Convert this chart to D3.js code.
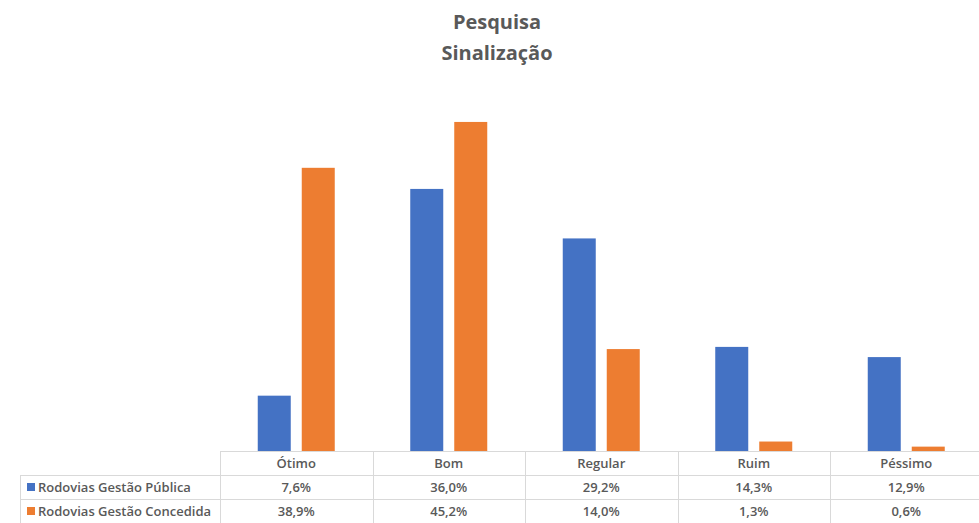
<!DOCTYPE html>
<html>
<head>
<meta charset="utf-8">
<script src="https://cdn.jsdelivr.net/npm/d3@7"></script>
<style>
  body { margin: 0; background: #fff; }
  svg text { font-family: "Open Sans", "Noto Sans", sans-serif; fill: #595959; }
</style>
</head>
<body>
<script>
'use strict';

const titleLines = ["Pesquisa", "Sinalização"];
const categories = ["Ótimo", "Bom", "Regular", "Ruim", "Péssimo"];
const seriesNames = ["Rodovias Gestão Pública", "Rodovias Gestão Concedida"];
const publica = [7.6, 36.0, 29.2, 14.3, 12.9];
const concedida = [38.9, 45.2, 14.0, 1.3, 0.6];
const seriesColors = ["#4472c4", "#ed7d31"];

(function() {
    const width = 979, height = 523;
    const plot = { left: 220, right: 982.5, top: 87, bottom: 451 };
    const rowH = 24;

    const svg = d3.select("body").append("svg")
        .attr("width", width)
        .attr("height", height);

    const values = [publica, concedida];

    // title
    svg.selectAll(".title")
        .data(titleLines)
        .enter()
        .append("text")
        .attr("class", "title")
        .attr("x", 497)
        .attr("y", (d, i) => 29 + i * 31)
        .attr("text-anchor", "middle")
        .attr("font-size", "20px")
        .attr("font-weight", "bold")
        .text(d => d);

    const x0 = d3.scaleBand()
        .domain(categories)
        .range([plot.left, plot.right]);

    const x1 = d3.scaleBand()
        .domain(seriesNames)
        .range([0, x0.bandwidth()])
        .paddingInner(0.25)
        .paddingOuter(0.858);

    const y = d3.scaleLinear()
        .domain([0, 50])
        .range([plot.bottom, plot.top]);

    // bars
    const groups = svg.selectAll(".cat")
        .data(categories)
        .enter()
        .append("g")
        .attr("class", "cat")
        .attr("transform", d => "translate(" + x0(d) + ",0)");

    groups.selectAll("rect")
        .data((c, ci) => seriesNames.map((s, si) => ({ s: s, si: si, v: values[si][ci] })))
        .enter()
        .append("rect")
        .attr("x", d => x1(d.s))
        .attr("y", d => y(d.v))
        .attr("width", x1.bandwidth())
        .attr("height", d => plot.bottom - y(d.v))
        .attr("fill", d => seriesColors[d.si]);

    // data table
    const grid = svg.append("g").attr("stroke", "#d9d9d9").attr("stroke-width", 1);
    const tableLeft = 20;
    const ys = [plot.bottom, plot.bottom + rowH, plot.bottom + rowH * 2, plot.bottom + rowH * 3];

    grid.append("line")
        .attr("x1", plot.left).attr("x2", plot.right)
        .attr("y1", ys[0] + 0.5).attr("y2", ys[0] + 0.5);
    [ys[1], ys[2]].forEach(yy => {
        grid.append("line")
            .attr("x1", tableLeft).attr("x2", plot.right)
            .attr("y1", yy + 0.5).attr("y2", yy + 0.5);
    });
    grid.append("line")
        .attr("x1", tableLeft + 0.5).attr("x2", tableLeft + 0.5)
        .attr("y1", ys[1]).attr("y2", height);
    categories.forEach(c => {
        grid.append("line")
            .attr("x1", Math.round(x0(c)) + 0.5).attr("x2", Math.round(x0(c)) + 0.5)
            .attr("y1", ys[0]).attr("y2", height);
    });

    // header
    svg.selectAll(".hdr")
        .data(categories)
        .enter()
        .append("text")
        .attr("class", "hdr")
        .attr("x", d => x0(d) + x0.bandwidth() / 2)
        .attr("y", ys[0] + 17)
        .attr("text-anchor", "middle")
        .attr("font-size", "13px")
        .attr("font-weight", 600)
        .text(d => d);

    const fmt = v => v.toFixed(1).replace(".", ",") + "%";

    seriesNames.forEach((s, si) => {
        const rowY = ys[1] + si * rowH;
        svg.append("rect")
            .attr("x", 27)
            .attr("y", rowY + 8)
            .attr("width", 8)
            .attr("height", 8)
            .attr("fill", seriesColors[si]);
        svg.append("text")
            .attr("x", 38)
            .attr("y", rowY + 17)
            .attr("font-size", "13px")
            .attr("font-weight", 600)
            .text(s);
        svg.selectAll(".val" + si)
            .data(values[si])
            .enter()
            .append("text")
            .attr("class", "val" + si)
            .attr("x", (d, i) => x0(categories[i]) + x0.bandwidth() / 2)
            .attr("y", rowY + 17)
            .attr("text-anchor", "middle")
            .attr("font-size", "13px")
            .attr("font-weight", 600)
            .text(d => fmt(d));
    });
})();
</script>
</body>
</html>
